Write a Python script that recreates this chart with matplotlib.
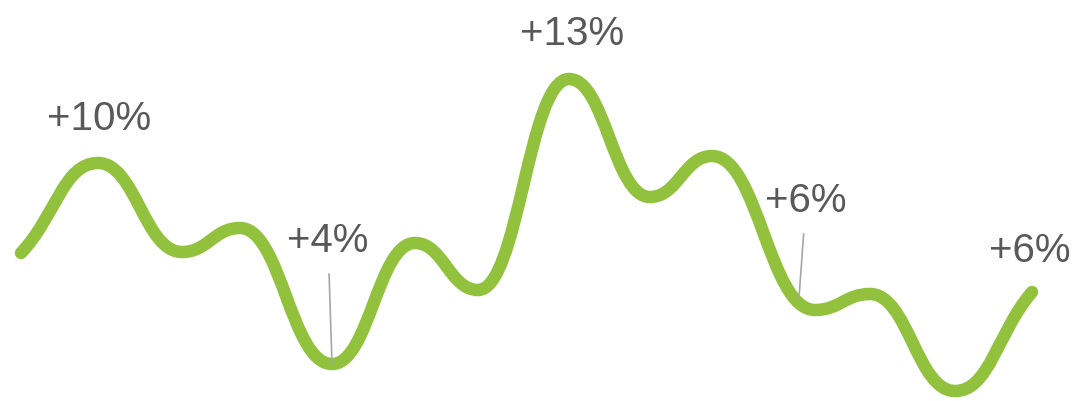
import matplotlib
matplotlib.use("Agg")
import matplotlib.pyplot as plt
from matplotlib.path import Path
from matplotlib.patches import PathPatch

# turning points of the smoothed line (x in px-like units, y up)
xs = [21, 98, 182, 240, 332, 415, 478, 569, 650, 712, 815, 870, 955, 1032]
ys = [148, 238, 149, 173, 37, 158, 111, 322, 204, 245, 91, 107, 10, 109]

# labels: text, anchor point on the line, text position, leader line?
lbl_text = ["+10%", "+4%", "+13%", "+6%", "+6%"]
lbl_xy = [(98, 238), (332, 37), (569, 322), (799, 103), (1032, 109)]
lbl_pos = [(99, 282), (328, 160), (572, 367), (806, 200), (1030, 150)]
lbl_leader = [False, True, False, True, False]

GREEN = "#92c13e"
GREY_TXT = "#595959"
GREY_LINE = "#a6a6a6"

plt.rcParams['font.family'] = ['Liberation Sans Narrow', 'Liberation Sans', 'DejaVu Sans']

fig = plt.figure(figsize=(10.73, 4.01), dpi=100)
ax = fig.add_axes([0, 0, 1, 1])
ax.set_xlim(0, 1073)
ax.set_ylim(0, 401)
ax.axis('off')

# smooth curve through the turning points (cubic bezier segments)
k = 0.45
verts = [(xs[0], ys[0])]
codes = [Path.MOVETO]
n = len(xs)
for i in range(n - 1):
    x0, y0, x1, y1 = xs[i], ys[i], xs[i + 1], ys[i + 1]
    dx = x1 - x0
    if i == 0:
        c1 = (x0 + k * dx, y0 + k * (y1 - y0) * 0.9)
    else:
        c1 = (x0 + k * dx, y0)
    if i == n - 2:
        c2 = (x1 - k * dx, y1 - k * (y1 - y0) * 0.9)
    else:
        c2 = (x1 - k * dx, y1)
    verts += [c1, c2, (x1, y1)]
    codes += [Path.CURVE4] * 3

curve = PathPatch(Path(verts, codes), facecolor='none', edgecolor=GREEN,
                  lw=9, capstyle='round', joinstyle='round', zorder=2)
ax.add_patch(curve)

for t, xy, pos, lead in zip(lbl_text, lbl_xy, lbl_pos, lbl_leader):
    if lead:
        ax.annotate(t, xy=xy, xytext=pos, ha='center', va='center',
                    fontsize=29, color=GREY_TXT, zorder=3,
                    arrowprops=dict(arrowstyle='-', color=GREY_LINE, lw=1.2,
                                    shrinkA=8, shrinkB=0))
    else:
        ax.text(pos[0], pos[1], t, ha='center', va='center',
                fontsize=29, color=GREY_TXT, zorder=3)

fig.savefig("out.png", dpi=100, facecolor='white')
